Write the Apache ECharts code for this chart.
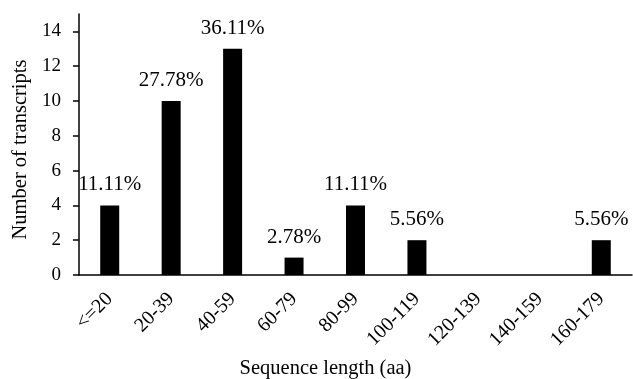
<!DOCTYPE html>
<html><head><meta charset="utf-8">
<script src="https://cdn.jsdelivr.net/npm/echarts@6/dist/echarts.min.js"></script>
<style>html,body{margin:0;padding:0;background:#fff}#c{width:633px;height:379px}</style>
</head><body><div id="c"></div>
<script>
const categories = ['<=20','20-39','40-59','60-79','80-99','100-119','120-139','140-159','160-179'];
const counts = [4, 10, 13, 1, 4, 2, 0, 0, 2];
const percentLabels = ['11.11%','27.78%','36.11%','2.78%','11.11%','5.56%','','','5.56%'];
const yTicks = [0, 2, 4, 6, 8, 10, 12, 14];

const font = 'Liberation Serif, Times New Roman, serif';
const chart = echarts.init(document.getElementById('c'));
chart.setOption({
  animation: false,
  grid: { left: 79, right: 1, top: 14, bottom: 104, containLabel: false, outerBoundsMode: 'none' },
  xAxis: {
    type: 'category', data: categories,
    name: 'Sequence length (aa)', nameLocation: 'middle', nameGap: 83,
    nameTextStyle: { fontFamily: font, fontSize: 20.5, color: '#000', padding: [0, 60, 0, 0] },
    axisLine: { lineStyle: { color: '#000', width: 1.5 } },
    axisTick: { show: false },
    axisLabel: { rotate: 45, fontFamily: font, fontSize: 20, color: '#000', margin: 21, interval: 0 }
  },
  yAxis: {
    type: 'value', min: 0, max: 15, interval: 2,
    name: 'Number of transcripts', nameLocation: 'middle', nameGap: 45,
    nameTextStyle: { fontFamily: font, fontSize: 20.5, color: '#000', padding: [0, 10, 0, 0] },
    splitLine: { show: false },
    axisLine: { show: true, lineStyle: { color: '#000', width: 1.5 } },
    axisTick: { show: true, length: 6, customValues: yTicks, lineStyle: { color: '#000', width: 1.5 } },
    axisLabel: { fontFamily: font, fontSize: 19, color: '#000', margin: 18, customValues: yTicks }
  },
  series: [{
    type: 'bar', data: counts, barWidth: 19,
    itemStyle: { color: '#000' },
    label: {
      show: true, position: 'top', distance: 10,
      fontFamily: font, fontSize: 21, color: '#000',
      formatter: p => percentLabels[p.dataIndex]
    }
  }]
});
</script></body></html>
